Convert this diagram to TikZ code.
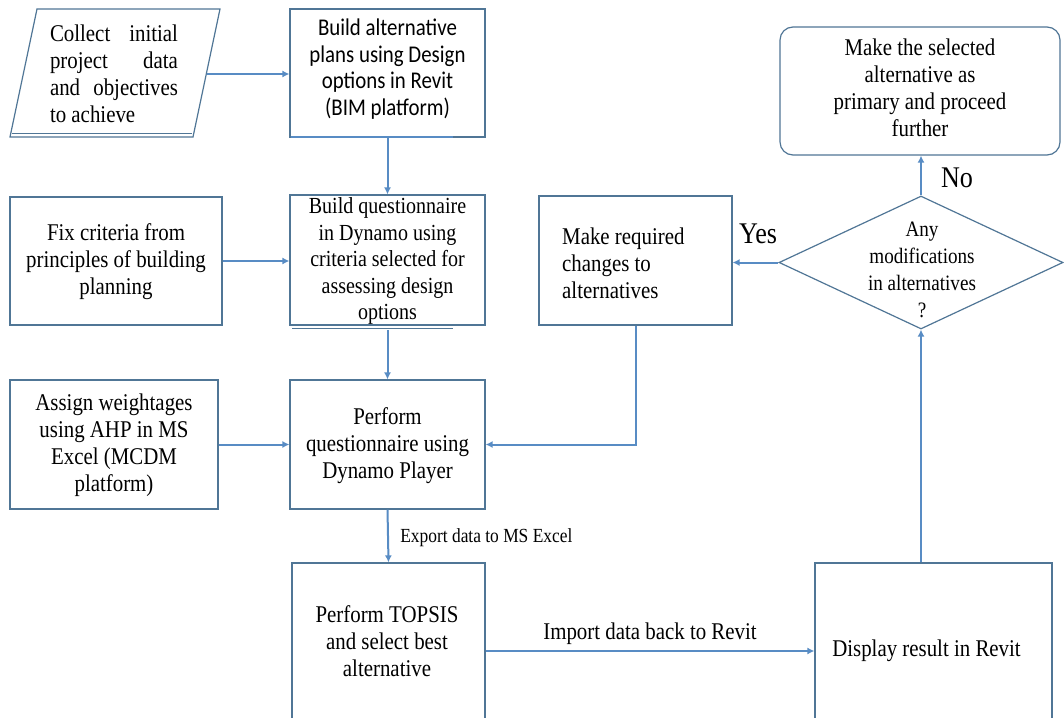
\documentclass[tikz,border=0pt]{standalone}
\usepackage{fontspec}
\setmainfont{Liberation Serif}[FakeStretch=0.87]
\newfontfamily\calfont{Carlito}[FakeStretch=0.87]
\usetikzlibrary{arrows.meta,shapes.geometric}
\definecolor{bord}{RGB}{80,118,150}
\definecolor{arr}{RGB}{88,140,196}
\begin{document}
\begin{tikzpicture}[x=1pt,y=-1pt,
  box/.style={draw=bord, line width=1.2pt, rectangle, align=center, inner sep=0pt},
  txt/.style={font=\fontsize{24}{27}\selectfont, align=center, inner sep=0pt},
  conn/.style={draw=arr, line width=2pt, -{Latex[length=7pt,width=7pt]}}]
\useasboundingbox (0,0) rectangle (1064,717);
\fill[white] (0,0) rectangle (1064,717);

% parallelogram
\draw[bord, line width=1.2pt] (37,9) -- (220,9) -- (193,137) -- (10,137) -- cycle;
\draw[bord, line width=1pt] (12,133) -- (192,133);
\coordinate (pe) at (206.5,74);
\node[txt, align=left] (p) at (114,74) {\makebox[128pt][s]{Collect initial}\\\makebox[128pt][s]{project data}\\\makebox[128pt][s]{and objectives}\\to achieve};

% boxes
\node[box, minimum width=195pt, minimum height=128pt] (b1) at (387.5,73) {};
\node[txt, font=\calfont\fontsize{24}{26.5}\selectfont] (b1t) at (387.5,69) {Build alternative\\plans using Design\\options in Revit\\(BIM platform)};
\draw[arr, line width=2pt] (291,137) -- (453,137);

\node[box, minimum width=195pt, minimum height=130pt] (b2) at (387.5,260) {};
\node[txt, font=\fontsize{23}{26.5}\selectfont] (b2t) at (387.5,261) {Build questionnaire\\in Dynamo using\\criteria selected for\\assessing design\\options};
\draw[bord, line width=1pt] (292,328.5) -- (453,328.5);

\node[box, minimum width=212pt, minimum height=128pt] (f) at (116,261) {};
\node[txt] (ft) at (116,262) {Fix criteria from\\principles of building\\planning};

\node[box, minimum width=208pt, minimum height=129pt] (a) at (114,444.5) {};
\node[txt] (at) at (114,445) {Assign weightages\\using AHP in MS\\Excel (MCDM\\platform)};

\node[box, minimum width=195pt, minimum height=129pt] (q) at (387.5,444.5) {};
\node[txt] (qt) at (387.5,446) {Perform\\questionnaire using\\Dynamo Player};

\node[box, minimum width=193pt, minimum height=156pt] (t) at (388.5,641) {};
\node[txt] (tt) at (387,641) {Perform TOPSIS\\and select best\\alternative};

\node[box, minimum width=237pt, minimum height=156pt] (d) at (933.5,641) {};
\node[txt] (dt) at (926.5,651) {Display result in Revit};

\node[box, minimum width=193pt, minimum height=129pt] (m) at (635.5,260.5) {};
\node[txt, align=left, anchor=west] (mt) at (562,263) {Make required\\changes to\\alternatives};

\node[draw=bord, line width=1.2pt, diamond, inner sep=0pt, minimum width=284pt, minimum height=133pt] (dm) at (921,262.5) {};
\node[txt, font=\fontsize{22}{27}\selectfont] (dmt) at (922,270) {Any\\modifications\\in alternatives\\?};

\node[draw=bord, line width=1.2pt, rounded corners=13pt, minimum width=280pt, minimum height=128pt] (r) at (920,91) {};
\node[txt] (rt) at (920,88) {Make the selected\\alternative as\\primary and proceed\\further};

% connectors
\draw[conn] (pe) -- (b1.west |- pe);
\draw[conn] (b1.south) -- (b2.north);
\draw[conn] (f.east) -- (b2.west |- f.east);
\draw[conn] (b2.south |- 0,330) -- (q.north);
\draw[conn] (a.east) -- (q.west);
\draw[conn] (q.south) -- node[right, xshift=8pt, yshift=-2pt, font=\fontsize{20}{22}\selectfont] (el) {Export data to MS Excel} (t.north);
\draw[conn] (t.east |- 0,651) -- node[above, yshift=2pt, font=\fontsize{24}{27}\selectfont] (il) {Import data back to Revit} (d.west |- 0,651);
\draw[conn] (dm.south |- d.north) -- (dm.south);
\draw[conn] (dm.north) -- (dm.north |- r.south);
\draw[conn] (dm.west) -- (m.east |- dm.west);
\draw[conn] (m.south) |- (q.east);
\node[font=\fontsize{30}{32}\selectfont, inner sep=0pt] (yes) at (758,234) {Yes};
\node[font=\fontsize{30}{32}\selectfont, inner sep=0pt] (no) at (957,178) {No};
\end{tikzpicture}
\end{document}
